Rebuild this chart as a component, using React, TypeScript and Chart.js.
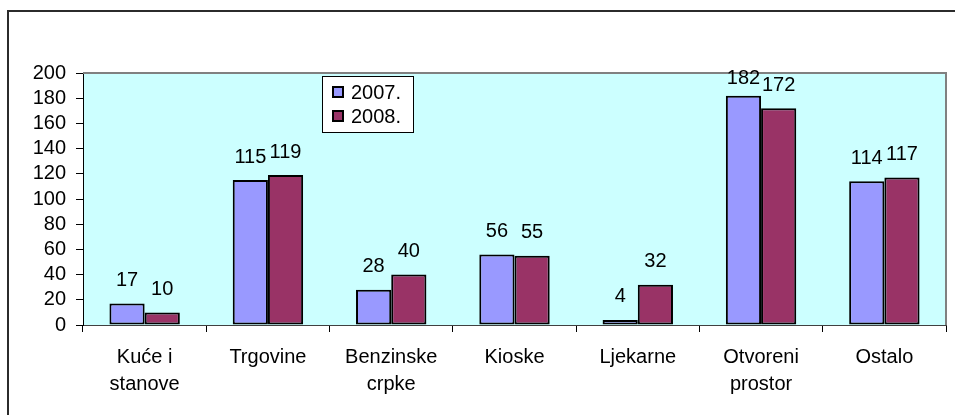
import React, { useEffect, useRef } from "react";
import { Chart, registerables } from "chart.js";

Chart.register(...registerables);

const categories: (string | string[])[] = [
  ["Kuće i", "stanove"],
  "Trgovine",
  ["Benzinske", "crpke"],
  "Kioske",
  "Ljekarne",
  ["Otvoreni", "prostor"],
  "Ostalo",
];
const series2007 = [17, 115, 28, 56, 4, 182, 114];
const series2008 = [10, 119, 40, 55, 32, 172, 117];
const seriesNames = ["2007.", "2008."];
const seriesColors = ["#9999ff", "#993366"];
const yTicks = { min: 0, max: 200, step: 20 };

const FONT = "'Liberation Sans', Arial, sans-serif";
const FS = 20;

const plotBg = {
  id: "plotBg",
  beforeDraw(chart: any) {
    const { ctx, chartArea: a } = chart;
    ctx.save();
    ctx.fillStyle = "#ccffff";
    ctx.fillRect(a.left, a.top, a.right - a.left, a.bottom - a.top);
    ctx.restore();
  },
  afterDatasetsDraw(chart: any) {
    const { ctx, chartArea: a } = chart;
    ctx.save();
    ctx.strokeStyle = "#808080";
    ctx.lineWidth = 2;
    ctx.beginPath();
    ctx.moveTo(a.left, a.top);
    ctx.lineTo(a.right, a.top);
    ctx.lineTo(a.right, a.bottom);
    ctx.stroke();
    ctx.restore();
  },
};

const valueLabels = {
  id: "valueLabels",
  afterDatasetsDraw(chart: any) {
    const { ctx, chartArea: a } = chart;
    ctx.save();
    ctx.font = `${FS}px ${FONT}`;
    ctx.fillStyle = "#000";
    ctx.textAlign = "center";
    ctx.textBaseline = "middle";
    chart.data.datasets.forEach((ds: any, i: number) => {
      const meta = chart.getDatasetMeta(i);
      meta.data.forEach((bar: any, j: number) => {
        const cy = Math.max(bar.y - 23, a.top + 5);
        ctx.fillText(String(ds.data[j]), bar.x, cy);
      });
    });
    ctx.restore();
  },
};

const boxLegend = {
  id: "boxLegend",
  afterDraw(chart: any) {
    const { ctx } = chart;
    const x = 322, y = 76, w = 91, h = 56;
    ctx.save();
    ctx.fillStyle = "#fff";
    ctx.fillRect(x, y, w, h);
    ctx.strokeStyle = "#000";
    ctx.lineWidth = 1;
    ctx.strokeRect(x + 0.5, y + 0.5, w, h);
    ctx.font = `${FS}px ${FONT}`;
    ctx.textBaseline = "middle";
    ctx.textAlign = "left";
    chart.data.datasets.forEach((ds: any, i: number) => {
      const cy = y + 16 + i * 24;
      ctx.fillStyle = ds.backgroundColor;
      ctx.fillRect(x + 11, cy - 5, 10, 10);
      ctx.strokeStyle = "#000";
      ctx.lineWidth = 2;
      ctx.strokeRect(x + 11, cy - 5, 10, 10);
      ctx.fillStyle = "#000";
      ctx.fillText(ds.label, x + 29, cy + 1);
    });
    ctx.restore();
  },
};

export default function App() {
  const ref = useRef<HTMLCanvasElement | null>(null);
  useEffect(() => {
    if (!ref.current) return;
    const chart = new Chart(ref.current, {
      type: "bar",
      data: {
        labels: categories,
        datasets: [series2007, series2008].map((d, i) => ({
          label: seriesNames[i],
          data: d,
          backgroundColor: seriesColors[i],
          borderColor: "#000",
          borderWidth: 2,
          borderSkipped: false,
          categoryPercentage: 0.571,
          barPercentage: 1,
        })),
      },
      options: {
        animation: false,
        responsive: false,
        devicePixelRatio: 1,
        layout: { padding: { top: 73, right: 9, left: 0, bottom: 0 } },
        plugins: {
          legend: { display: false },
          tooltip: { enabled: false },
          title: { display: false },
        },
        scales: {
          x: {
            offset: true,
            grid: {
              offset: true,
              drawOnChartArea: false,
              drawTicks: true,
              tickLength: 7,
              tickColor: "#000",
            },
            border: { display: true, color: "#404040", width: 1 },
            ticks: {
              color: "#000",
              padding: 12,
              maxRotation: 0,
              autoSkip: false,
              font: { family: FONT, size: FS, lineHeight: "27px" },
            },
            afterFit(scale: any) {
              scale.height = 90;
            },
          },
          y: {
            min: yTicks.min,
            max: yTicks.max,
            grid: {
              drawOnChartArea: false,
              drawTicks: true,
              tickLength: 7,
              tickColor: "#000",
            },
            border: { display: true, color: "#000", width: 1 },
            ticks: {
              stepSize: yTicks.step,
              autoSkip: false,
              color: "#000",
              padding: 10,
              font: { family: FONT, size: FS, lineHeight: 1 },
            },
            afterFit(scale: any) {
              scale.width = 83;
            },
          },
        },
      },
      plugins: [plotBg, valueLabels, boxLegend],
    });
    return () => chart.destroy();
  }, []);
  return (
    <div
      style={{
        position: "fixed",
        left: 0,
        top: 0,
        width: 955,
        height: 415,
        overflow: "hidden",
        background: "#fff",
      }}
    >
      <canvas ref={ref} width={955} height={415} style={{ width: 955, height: 415, display: "block" }} />
      <div
        style={{
          position: "absolute",
          left: 7,
          top: 10,
          width: 1100,
          height: 600,
          border: "2px solid #2b2b2b",
          pointerEvents: "none",
        }}
      />
    </div>
  );
}
